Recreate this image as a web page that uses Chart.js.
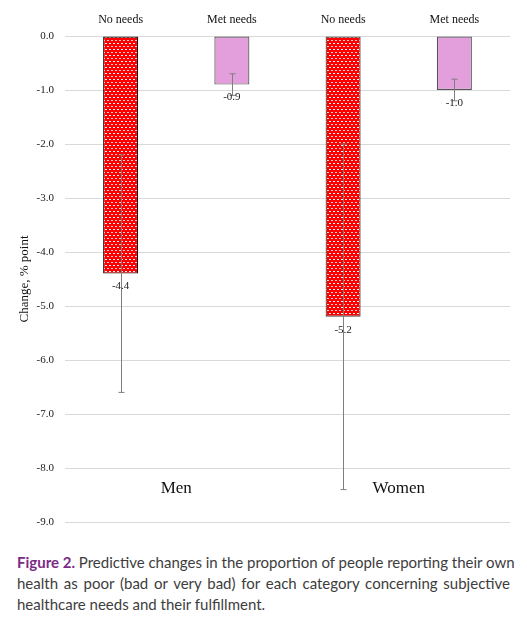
<!DOCTYPE html>
<html><head><meta charset="utf-8">
<script src="https://cdn.jsdelivr.net/npm/chart.js@4/dist/chart.umd.min.js"></script>
<style>
html,body{margin:0;padding:0;background:#fff;width:527px;height:623px;overflow:hidden;}
#wrap{position:absolute;left:0;top:0;width:527px;height:540px;}
#cap{position:absolute;left:17px;top:552px;width:493px;font-family:Lato,"Open Sans",sans-serif;font-size:15px;line-height:21px;color:#3d3d3d;}
#cap div{text-align:justify;text-align-last:justify;white-space:nowrap;}
#cap div.last{text-align-last:left;}
#cap b{color:#7b2b86;font-weight:bold;}
</style></head>
<body>
<div id="wrap"><canvas id="c"></canvas></div>
<div id="cap">
<div><b>Figure 2.</b> Predictive changes in the proportion of people reporting their own</div>
<div>health as poor (bad or very bad) for each category concerning subjective</div>
<div class="last">healthcare needs and their fulfillment.</div>
</div>
<script>
const categories = ['No needs','Met needs','No needs','Met needs'];
const groups = ['Men','Women'];
const values = [-4.4,-0.9,-5.2,-1.0];
const errors = [2.2,0.2,3.2,0.2];
const yTicksMin = -9, yTicksMax = 0;

function makePattern(){
  const p = document.createElement('canvas');
  p.width = 4; p.height = 6;
  const g = p.getContext('2d');
  g.fillStyle = '#ff0000'; g.fillRect(0,0,4,6);
  g.fillStyle = '#ffffff';
  g.fillRect(1,1,2,1);
  g.fillStyle = '#ffd0d0';
  g.fillRect(3,4,1,1);
  g.fillRect(0,4,1,1);
  return document.getElementById('c').getContext('2d').createPattern(p,'repeat');
}
const pat = makePattern();
const serif = '"Liberation Serif","Times New Roman",serif';

const extras = {
  id:'extras',
  afterDatasetsDraw(chart){
    const ctx = chart.ctx;
    const meta = chart.getDatasetMeta(0);
    const y = chart.scales.y;
    ctx.save();
    ctx.strokeStyle = '#7f7f7f'; ctx.lineWidth = 1;
    meta.data.forEach((bar,i)=>{
      const x = Math.round(bar.x)+0.5;
      const yt = y.getPixelForValue(values[i]+errors[i]);
      const yb = y.getPixelForValue(values[i]-errors[i]);
      ctx.beginPath();
      ctx.moveTo(x,yt); ctx.lineTo(x,yb);
      ctx.moveTo(x-3,yt); ctx.lineTo(x+3,yt);
      ctx.moveTo(x-3,yb); ctx.lineTo(x+3,yb);
      ctx.stroke();
    });
    ctx.fillStyle = '#222'; ctx.font = '11px '+serif;
    ctx.textAlign = 'center'; ctx.textBaseline = 'middle';
    meta.data.forEach((bar,i)=>{
      ctx.fillText(values[i].toFixed(1), bar.x, y.getPixelForValue(values[i])+13);
    });
    ctx.font = '17px '+serif; ctx.fillStyle = '#111';
    groups.forEach((gname,gi)=>{
      const x = (meta.data[gi*2].x + meta.data[gi*2+1].x)/2;
      ctx.fillText(gname, x, y.getPixelForValue(-8.38));
    });
    ctx.restore();
  }
};

new Chart(document.getElementById('c'), {
  type:'bar',
  data:{
    labels: categories,
    datasets:[{
      data: values,
      backgroundColor:[pat,'#e39fdb',pat,'#e39fdb'],
      borderColor:['#111','#555','#444','#555'],
      borderWidth:1.2,
      borderSkipped:false,
      barPercentage:0.315,
      categoryPercentage:1
    }]
  },
  options:{
    responsive:true, maintainAspectRatio:false, animation:false,
    layout:{padding:{left:15,right:17,top:0,bottom:18}},
    plugins:{legend:{display:false},tooltip:{enabled:false}},
    scales:{
      x:{
        position:'top',
        grid:{display:false, drawTicks:false},
        border:{display:false},
        ticks:{color:'#111', font:{family:serif,size:12}, padding:9, maxRotation:0},
        afterFit(s){ s.height = 36; }
      },
      y:{
        min:yTicksMin, max:yTicksMax,
        grid:{color:'#d9d9d9', lineWidth:1, drawTicks:false},
        border:{display:false},
        ticks:{stepSize:1, color:'#222', font:{family:serif,size:11}, padding:11,
          callback:v=>Number(v).toFixed(1)},
        title:{display:true, text:'Change, % point', color:'#111', font:{family:serif,size:13}, padding:{top:2,bottom:2}},
        afterFit(s){ s.width = 50; }
      }
    }
  },
  plugins:[extras]
});
</script>
</body></html>
